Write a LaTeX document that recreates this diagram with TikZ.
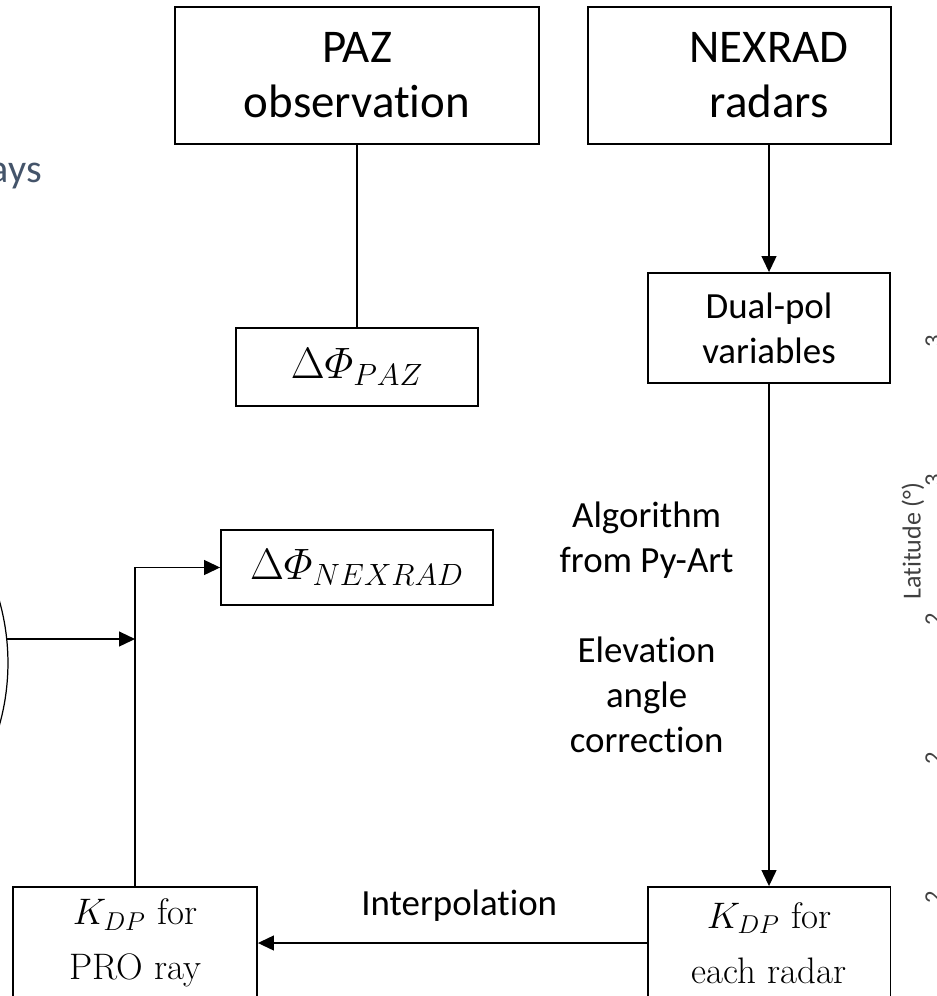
\RequirePackage{fix-cm}
\documentclass[tikz,border=0pt]{standalone}
\usepackage{amsmath}
\usepackage{fontspec}
\newfontfamily\cali[Ligatures=NoCommon]{Carlito}
\usetikzlibrary{arrows.meta}
\definecolor{slate}{HTML}{44546A}
\definecolor{axisgray}{HTML}{404040}

\begin{document}
\begin{tikzpicture}[x=0.02cm, y=-0.02cm,
  box/.style={draw, line width=1.1pt, inner sep=0pt, align=center},
  conn/.style={line width=0.7pt},
  arr/.style={conn, -{Triangle[length=0.32cm, width=0.3cm]}},
  big/.style={font={\cali\fontsize{26.7}{31.3}\selectfont}},
  mid/.style={font={\cali\fontsize{21}{25.6}\selectfont}},
  sym/.style={font={\fontsize{25}{30}\selectfont}},
  kdp/.style={font={\fontsize{21}{31.3}\selectfont}},
  tick/.style={font={\cali\fontsize{14}{16}\selectfont}, text=axisgray, inner sep=0pt, rotate=90}]

\useasboundingbox (0,0) rectangle (936,996);
\clip (0,0) rectangle (936,996);

\node[box, big, minimum width=7.28cm, minimum height=2.74cm] (paz) at (357,75.5) {PAZ\\observation};
\node[box, minimum width=6.06cm, minimum height=2.74cm] (nexrad) at (739.5,75.5) {};
\node[big, align=center] (nexradtxt) at (769,75.5) {NEXRAD\\radars};

\node[box, mid, minimum width=4.84cm, minimum height=2.2cm] (dualpol) at (769,328) {Dual-pol\\variables};
\node[box, sym, minimum width=4.84cm, minimum height=1.56cm] (dpaz) at (357,367) {$\Delta\varPhi_{PAZ}$};
\node[box, sym, minimum width=5.44cm, minimum height=1.5cm] (dnex) at (357,567.5) {$\Delta\varPhi_{NEXRAD}$};

\node[box, kdp, minimum width=4.88cm, minimum height=2.24cm] (kpro) at (135,943) {$K_{DP}$ for\\PRO ray};
\node[box, kdp, minimum width=4.86cm, minimum height=2.24cm] (keach) at (769,943) {$K_{DP}$ for\\each radar};

\node[draw, circle, conn, minimum size=9.16cm] (prodisk) at (-221,663) {};

\draw[conn] (paz) -- (dpaz);
\draw[arr] (nexrad.south -| dualpol) -- (dualpol);
\draw[arr] (dualpol) -- node[mid, left=0.58cm, yshift=0.16cm, align=center] {Algorithm\\from Py-Art\\[25.6pt]Elevation\\angle\\correction} (keach);
\draw[arr] (keach) -- node[mid, above=0.3cm, xshift=0.14cm] {Interpolation} (kpro);
\draw[arr] (kpro.north) |- (dnex);
\draw[arr] (prodisk.6.8) -- (prodisk.6.8 -| kpro.north);

% fragments of the neighbouring slide content
\node[font={\cali\fontsize{22.8}{27}\selectfont}, text=slate, anchor=base east, inner sep=0pt] (rayslbl) at (42,183) {ays};
\node[font={\cali\fontsize{14.8}{17}\selectfont}, text=axisgray, rotate=90] (latlbl) at (913,541) {Latitude (°)};
\foreach \v [count=\i] in {3,3,2,2,2}
  \node[tick, anchor=north] at ({925},{341+139*(\i-1)}) {\v};

\end{tikzpicture}
\end{document}
